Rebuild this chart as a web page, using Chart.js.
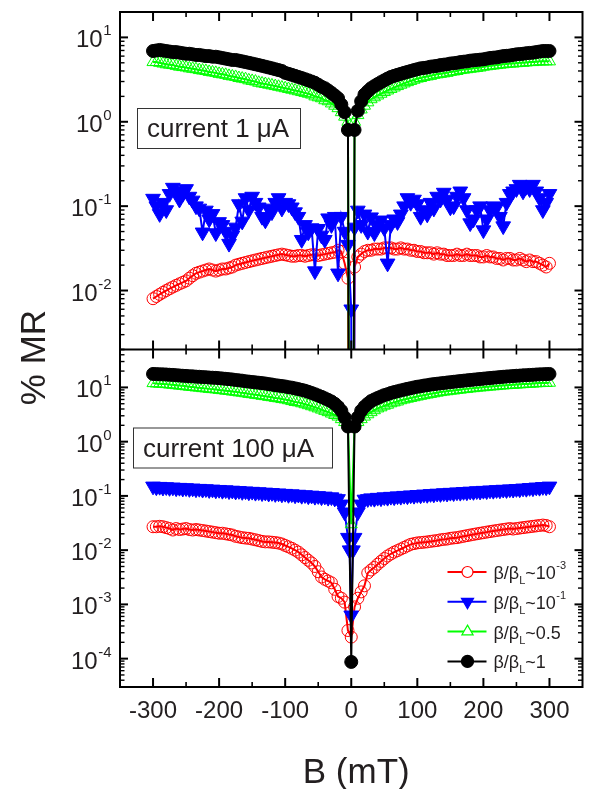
<!DOCTYPE html>
<html>
<head>
<meta charset="utf-8">
<script src="https://cdn.jsdelivr.net/npm/chart.js@4/dist/chart.umd.min.js"></script>
<style>
html,body{margin:0;padding:0;background:#fff;}
#wrap{width:592px;height:789px;position:relative;}
</style>
</head>
<body>
<div id="wrap"><canvas id="c" width="592" height="789"></canvas></div>
<script>
// Magnetic field B (mT)
const B = [
 -300,-295,-290,-285,-280,-275,-270,-265,-260,-255,
 -250,-245,-240,-235,-230,-225,-220,-215,-210,-205,
 -200,-195,-190,-185,-180,-175,-170,-165,-160,-155,
 -150,-145,-140,-135,-130,-125,-120,-115,-110,-105,
 -100,-95,-90,-85,-80,-75,-70,-65,-60,-55,
 -50,-45,-40,-35,-30,-25,-20,-15,-10,-5,
 -2.5,0,2.5,
 5,10,15,20,25,30,35,40,45,50,
 55,60,65,70,75,80,85,90,95,100,
 105,110,115,120,125,130,135,140,145,150,
 155,160,165,170,175,180,185,190,195,200,
 205,210,215,220,225,230,235,240,245,250,
 255,260,265,270,275,280,285,290,295,300
];

// ---- current 1 uA (top panel), % MR ----
const top_b1e3 = [
 0.0080,0.0085,0.0090,0.0095,0.0100,0.0105,0.0110,0.0115,0.0120,0.0125,
 0.0130,0.0140,0.0150,0.0160,0.0165,0.0170,0.0175,0.0180,0.0175,0.0170,
 0.0175,0.0180,0.0180,0.0185,0.0190,0.0200,0.0205,0.0210,0.0215,0.0220,
 0.0225,0.0230,0.0235,0.0240,0.0245,0.0250,0.0255,0.0260,0.0265,0.0270,
 0.0265,0.0260,0.0255,0.0255,0.0260,0.0260,0.0255,0.0260,0.0265,0.0265,
 0.0260,0.0265,0.0270,0.0275,0.0280,0.0285,0.0300,0.0290,0.0210,0.0140,
 null,1e-12,null,
 0.019,0.025,0.027,0.029,0.030,0.030,0.031,0.031,0.031,0.032,
 0.032,0.032,0.031,0.031,0.032,0.031,0.031,0.030,0.030,0.029,
 0.029,0.028,0.028,0.028,0.027,0.028,0.027,0.027,0.026,0.026,
 0.026,0.027,0.026,0.026,0.027,0.026,0.026,0.026,0.025,0.025,
 0.026,0.025,0.025,0.024,0.024,0.023,0.024,0.024,0.023,0.023,
 0.024,0.023,0.022,0.023,0.022,0.022,0.021,0.020,0.019,0.021
];
const top_b1e1 = [
 0.123,0.10,0.081,0.11,0.09,0.14,0.166,0.15,0.12,0.14,
 0.16,0.13,0.117,0.10,0.094,0.049,0.089,0.07,0.081,0.048,
 0.065,0.06,0.05,0.036,0.045,0.056,0.106,0.066,0.125,0.09,
 0.13,0.11,0.097,0.075,0.068,0.094,0.085,0.11,0.125,0.094,
 0.11,0.106,0.097,0.085,0.075,0.04,0.06,0.049,0.055,0.017,
 0.054,0.045,0.04,0.072,0.06,0.075,0.016,0.075,0.05,0.035,
 null,0.006,1e-12,
 0.056,0.089,0.06,0.08,0.05,0.074,0.048,0.06,0.068,0.055,
 0.021,0.06,0.07,0.065,0.08,0.1,0.125,0.11,0.12,0.106,
 0.075,0.09,0.08,0.11,0.094,0.13,0.12,0.145,0.12,0.097,
 0.1,0.13,0.15,0.125,0.09,0.063,0.07,0.09,0.1,0.052,
 0.07,0.09,0.1,0.097,0.075,0.058,0.11,0.14,0.15,0.16,
 0.18,0.15,0.17,0.16,0.18,0.15,0.125,0.09,0.11,0.14
];
const top_b05 = [
 5.1,5.1,5.0,4.9,4.8,4.75,4.7,4.6,4.5,4.45,
 4.4,4.3,4.25,4.2,4.1,4.05,4.0,3.9,3.85,3.8,
 3.7,3.65,3.6,3.5,3.45,3.4,3.3,3.25,3.2,3.1,
 3.05,3.0,2.9,2.85,2.8,2.75,2.7,2.65,2.6,2.55,
 2.5,2.45,2.4,2.35,2.3,2.25,2.2,2.15,2.1,2.0,
 1.95,1.9,1.8,1.75,1.65,1.55,1.45,1.3,1.15,1.0,
 null,1e-12,null,
 1.0,1.2,1.4,1.55,1.7,1.85,1.95,2.05,2.15,2.25,
 2.35,2.45,2.55,2.65,2.75,2.85,2.95,3.05,3.15,3.25,
 3.3,3.4,3.45,3.5,3.6,3.65,3.7,3.75,3.8,3.9,
 3.95,4.0,4.1,4.15,4.2,4.25,4.3,4.35,4.4,4.5,
 4.55,4.6,4.65,4.7,4.75,4.8,4.85,4.9,4.9,4.95,
 5.0,5.0,5.05,5.1,5.1,5.15,5.2,5.2,5.2,5.2
];
const top_b1 = [
 6.9,7.0,7.1,7.0,6.9,6.8,6.7,6.7,6.6,6.5,
 6.4,6.4,6.3,6.2,6.2,6.1,6.0,6.0,5.9,5.9,
 5.8,5.7,5.6,5.5,5.4,5.4,5.3,5.2,5.1,5.0,
 4.9,4.8,4.7,4.6,4.5,4.4,4.3,4.2,4.1,4.0,
 3.8,3.7,3.6,3.5,3.4,3.3,3.2,3.1,3.0,2.9,
 2.75,2.6,2.5,2.35,2.2,2.05,1.9,1.6,1.3,0.8,
 null,1e-12,null,
 0.8,1.35,1.75,2.1,2.3,2.5,2.65,2.8,2.95,3.1,
 3.25,3.4,3.5,3.6,3.7,3.8,3.9,4.0,4.1,4.2,
 4.3,4.35,4.4,4.5,4.55,4.6,4.7,4.75,4.8,4.9,
 4.95,5.0,5.1,5.15,5.2,5.3,5.35,5.4,5.45,5.5,
 5.6,5.7,5.75,5.8,5.9,6.0,6.05,6.1,6.2,6.3,
 6.35,6.4,6.5,6.55,6.6,6.7,6.8,6.9,6.9,6.9
];

// ---- current 100 uA (bottom panel), % MR ----
const bot_b1e3 = [
 0.027,0.027,0.0275,0.027,0.026,0.025,0.0235,0.025,0.024,0.0245,
 0.025,0.024,0.0235,0.024,0.0235,0.023,0.0225,0.022,0.0215,0.021,
 0.0205,0.0205,0.020,0.0195,0.019,0.018,0.0175,0.017,0.0167,0.0165,
 0.016,0.0155,0.015,0.0145,0.0142,0.0142,0.014,0.0138,0.0135,0.013,
 0.0122,0.0115,0.0108,0.0100,0.0092,0.0082,0.0073,0.0065,0.0058,0.0050,
 0.0040,0.0032,0.0029,0.0027,0.0025,0.0019,0.0014,0.0013,0.0011,0.00033,
 null,0.00025,null,
 0.0009,0.0013,0.0017,0.0022,0.0038,0.0043,0.0048,0.0055,0.0062,0.0070,
 0.0078,0.0085,0.0092,0.0098,0.0105,0.0112,0.0120,0.0128,0.0132,0.0136,
 0.0138,0.0140,0.0142,0.0145,0.0148,0.0150,0.0155,0.0158,0.0160,0.0165,
 0.0168,0.0170,0.0175,0.0180,0.0185,0.0190,0.0195,0.0200,0.0205,0.0210,
 0.0215,0.0220,0.0225,0.0230,0.0235,0.0240,0.0245,0.0250,0.0245,0.0250,
 0.0255,0.0260,0.0265,0.0270,0.0275,0.0280,0.0285,0.0290,0.0285,0.0270
];
const bot_b1e1 = [
 0.150,0.145,0.148,0.143,0.146,0.141,0.144,0.139,0.142,0.137,
 0.140,0.135,0.138,0.133,0.136,0.131,0.134,0.129,0.132,0.127,
 0.130,0.125,0.128,0.123,0.126,0.121,0.124,0.119,0.122,0.117,
 0.120,0.115,0.118,0.113,0.116,0.111,0.114,0.109,0.112,0.107,
 0.110,0.105,0.108,0.103,0.106,0.101,0.104,0.099,0.102,0.097,
 0.100,0.095,0.098,0.093,0.095,0.090,0.088,0.070,0.050,0.017,
 0.010,0.00063,0.010,
 0.017,0.050,0.070,0.086,0.088,0.091,0.089,0.093,0.091,0.095,
 0.093,0.097,0.095,0.099,0.097,0.101,0.099,0.103,0.101,0.105,
 0.103,0.107,0.105,0.109,0.107,0.111,0.109,0.113,0.111,0.115,
 0.113,0.117,0.115,0.119,0.117,0.121,0.119,0.123,0.121,0.125,
 0.123,0.127,0.125,0.129,0.127,0.131,0.129,0.133,0.131,0.135,
 0.133,0.138,0.136,0.141,0.139,0.144,0.142,0.147,0.145,0.150
];
const bot_b05 = [
 12.0,11.8,11.7,11.6,11.5,11.3,11.2,11.0,10.8,10.7,
 10.5,10.3,10.2,10.0,9.9,9.7,9.6,9.4,9.3,9.2,
 9.0,8.9,8.7,8.6,8.4,8.3,8.1,8.0,7.8,7.6,
 7.5,7.3,7.2,7.0,6.9,6.7,6.6,6.4,6.3,6.1,
 6.0,5.8,5.6,5.4,5.3,5.1,4.9,4.7,4.5,4.3,
 4.1,3.9,3.7,3.5,3.3,3.1,2.9,2.6,2.3,2.0,
 null,0.03,null,
 2.0,2.3,2.6,2.9,3.2,3.5,3.8,4.1,4.3,4.6,
 4.8,5.1,5.3,5.5,5.8,6.0,6.2,6.4,6.6,6.8,
 7.0,7.2,7.4,7.6,7.8,8.0,8.2,8.4,8.5,8.7,
 8.8,9.0,9.1,9.3,9.4,9.6,9.7,9.9,10.0,10.1,
 10.3,10.4,10.5,10.6,10.8,10.9,11.0,11.1,11.2,11.3,
 11.4,11.5,11.6,11.7,11.8,11.9,12.0,12.1,12.1,12.2
];
const bot_b1 = [
 17.7,17.6,17.5,17.4,17.3,17.1,17.0,16.8,16.6,16.4,
 16.3,16.1,16.0,15.8,15.7,15.5,15.4,15.2,15.1,15.0,
 14.8,14.6,14.4,14.2,14.0,13.7,13.5,13.3,13.0,12.8,
 12.6,12.4,12.2,12.0,11.8,11.5,11.3,11.0,10.8,10.6,
 10.4,10.1,9.9,9.6,9.3,9.0,8.7,8.3,7.9,7.5,
 7.1,6.7,6.3,5.9,5.5,5.0,4.4,3.7,2.8,1.9,
 null,0.000087,null,
 1.9,2.8,3.7,4.4,5.0,5.6,6.0,6.4,6.8,7.2,
 7.5,7.9,8.2,8.5,8.8,9.1,9.4,9.7,10.0,10.3,
 10.5,10.8,11.0,11.3,11.5,11.7,11.9,12.1,12.3,12.5,
 12.7,12.9,13.1,13.3,13.5,13.7,13.9,14.1,14.3,14.5,
 14.7,14.9,15.1,15.3,15.5,15.7,15.9,16.0,16.2,16.4,
 16.5,16.7,16.8,17.0,17.1,17.3,17.4,17.5,17.6,17.7
];

// Tick labels
const xTickValues = [-300,-200,-100,0,100,200,300];
const xTickLabels = ['-300','-200','-100','0','100','200','300'];
const xMinorValues = [-250,-150,-50,50,150,250];
const topExponents = ['-2','-1','0','1'];
const botExponents = ['-4','-3','-2','-1','0','1'];
const legendLabels = [
  {name:'β/β', sub:'L', tail:'~10', sup:'-3'},
  {name:'β/β', sub:'L', tail:'~10', sup:'-1'},
  {name:'β/β', sub:'L', tail:'~0.5', sup:''},
  {name:'β/β', sub:'L', tail:'~1', sup:''}
];
const panelLabels = ['current 1 μA', 'current 100 μA'];

const FONT = '"Liberation Sans", Arial, Helvetica, sans-serif';
const TXT = '#231f20';

function pts(vals){
  const out = [];
  for (let i = 0; i < B.length; i++) if (vals[i] !== null) out.push({x: B[i], y: vals[i]});
  return out;
}

const styles = [
  {color:'#ff0000', pointStyle:'circle', radius:6, fill:'rgba(0,0,0,0)', rot:0, bw:1, order:3, lr:5.5},
  {color:'#0000ff', pointStyle:'triangle', radius:8.5, fill:'#0000ff', rot:180, bw:1, order:2, lr:7},
  {color:'#00ff00', pointStyle:'triangle', radius:7, fill:'rgba(0,0,0,0)', rot:0, bw:1, order:1, lr:6.5},
  {color:'#000000', pointStyle:'circle', radius:6.5, fill:'#000000', rot:0, bw:1, order:0, lr:6}
];
function ds(vals, k, axis, label){
  const s = styles[k];
  return {
    label: label, data: pts(vals), yAxisID: axis, order: s.order,
    borderColor: s.color, backgroundColor: s.fill, borderWidth: 2,
    pointStyle: s.pointStyle, pointRadius: s.radius, pointRotation: s.rot,
    pointBorderColor: s.color, pointBackgroundColor: s.fill, pointBorderWidth: s.bw,
    spanGaps: true, tension: 0
  };
}
const legendText = ['β/βL~10^-3','β/βL~10^-1','β/βL~0.5','β/βL~1'];
const datasets = [
  ds(top_b1e3,0,'yTop',legendText[0]), ds(top_b1e1,1,'yTop',legendText[1]),
  ds(top_b05,2,'yTop',legendText[2]), ds(top_b1,3,'yTop',legendText[3]),
  ds(bot_b1e3,0,'yBot',legendText[0]), ds(bot_b1e1,1,'yBot',legendText[1]),
  ds(bot_b05,2,'yBot',legendText[2]), ds(bot_b1,3,'yBot',legendText[3])
];

function drawMarker(ctx, k, x, y){
  const s = styles[k];
  ctx.save();
  ctx.lineWidth = 1.2; ctx.strokeStyle = s.color;
  ctx.beginPath();
  const r = s.lr;
  if (s.pointStyle === 'circle') {
    ctx.arc(x, y, r, 0, Math.PI*2);
  } else {
    const dir = s.rot === 180 ? -1 : 1;
    ctx.moveTo(x, y - dir*r);
    ctx.lineTo(x + r*Math.sin(2*Math.PI/3), y + dir*r/2);
    ctx.lineTo(x - r*Math.sin(2*Math.PI/3), y + dir*r/2);
    ctx.closePath();
  }
  ctx.fillStyle = (s.fill === 'rgba(0,0,0,0)') ? '#ffffff' : s.fill;
  ctx.fill(); ctx.stroke();
  ctx.restore();
}

const decor = {
  id: 'decor',
  afterDatasetsDraw(chart){
    const ctx = chart.ctx;
    const xs = chart.scales.x, yT = chart.scales.yTop, yB = chart.scales.yBot;
    const L = xs.left, R = xs.right, T = yT.top, M = yT.bottom, Bt = yB.bottom;
    ctx.save();
    ctx.strokeStyle = '#000';
    // frame + divider
    ctx.lineWidth = 2;
    ctx.strokeRect(L, T, R - L, Bt - T);
    ctx.beginPath(); ctx.moveTo(L, M); ctx.lineTo(R, M); ctx.stroke();
    // x ticks (inward) at each horizontal edge
    const edges = [[T, 1], [M, -1], [M, 1], [Bt, -1]];
    for (const [ey, dir] of edges) {
      ctx.lineWidth = 2;
      for (const v of xTickValues) { const px = xs.getPixelForValue(v); ctx.beginPath(); ctx.moveTo(px, ey); ctx.lineTo(px, ey + dir*9); ctx.stroke(); }
      ctx.lineWidth = 1.6;
      for (const v of xMinorValues) { const px = xs.getPixelForValue(v); ctx.beginPath(); ctx.moveTo(px, ey); ctx.lineTo(px, ey + dir*5); ctx.stroke(); }
    }
    // y ticks, log scale
    for (const sc of [yT, yB]) {
      const lo = sc.min, hi = sc.max;
      for (let d = -6; d <= 3; d++) {
        for (let m = 1; m <= 9; m++) {
          const v = m * Math.pow(10, d);
          if (v < lo * 0.999 || v > hi * 1.001) continue;
          const py = sc.getPixelForValue(v);
          const len = (m === 1) ? 8 : 4.5;
          ctx.lineWidth = (m === 1) ? 2 : 1.4;
          ctx.beginPath(); ctx.moveTo(L, py); ctx.lineTo(L + len, py); ctx.stroke();
          ctx.beginPath(); ctx.moveTo(R, py); ctx.lineTo(R - len, py); ctx.stroke();
        }
      }
    }
    // y tick labels 10^n
    ctx.fillStyle = TXT; ctx.textBaseline = 'alphabetic'; ctx.textAlign = 'left';
    const bigF = '24px ' + FONT, smF = '15px ' + FONT;
    function pow10(exp, sc){
      const py = sc.getPixelForValue(Math.pow(10, parseInt(exp, 10)));
      ctx.font = bigF; const w1 = ctx.measureText('10').width;
      ctx.font = smF; const w2 = ctx.measureText(exp).width;
      const x0 = L - 9 - w1 - w2;
      ctx.font = bigF; ctx.fillText('10', x0, py + 10);
      ctx.font = smF; ctx.fillText(exp, x0 + w1 + 0.5, py - 2);
    }
    topExponents.forEach(e => pow10(e, yT));
    botExponents.forEach(e => pow10(e, yB));
    // x tick labels
    ctx.font = bigF; ctx.textAlign = 'center';
    xTickValues.forEach((v, i) => ctx.fillText(xTickLabels[i], xs.getPixelForValue(v), Bt + 31));
    // axis titles
    ctx.font = '35px ' + FONT;
    ctx.fillText('B (mT)', (L + R) / 2 + 5, 783);
    ctx.save();
    ctx.translate(45, (T + Bt) / 2 + 8);
    ctx.rotate(-Math.PI / 2);
    ctx.textAlign = 'center';
    ctx.fillText('% MR', 0, 0);
    ctx.restore();
    // panel label boxes
    const boxes = [
      {x: L + 17, y: T + 96, w: 163, h: 40, t: panelLabels[0]},
      {x: L + 13, y: M + 78, w: 199, h: 40, t: panelLabels[1]}
    ];
    ctx.font = '26px ' + FONT; ctx.textAlign = 'left';
    for (const b of boxes) {
      ctx.lineWidth = 1; ctx.strokeStyle = '#333';
      ctx.fillStyle = '#fff';
      ctx.fillRect(b.x, b.y, b.w, b.h);
      ctx.strokeRect(b.x + 0.5, b.y + 0.5, b.w, b.h);
      ctx.fillStyle = TXT;
      ctx.fillText(b.t, b.x + 10, b.y + 29);
    }
    // legend
    const lx0 = R - 135, lx1 = R - 96, mx = R - 115, tx = R - 89;
    legendLabels.forEach((lab, k) => {
      const ly = Bt - 115 + k * 29.8;
      ctx.strokeStyle = styles[k].color; ctx.lineWidth = 2;
      ctx.beginPath(); ctx.moveTo(lx0, ly); ctx.lineTo(lx1, ly); ctx.stroke();
      drawMarker(ctx, k, mx, ly);
      ctx.fillStyle = TXT; ctx.textAlign = 'left';
      let x = tx;
      ctx.font = '18px ' + FONT; ctx.fillText(lab.name, x, ly + 7); x += ctx.measureText(lab.name).width;
      ctx.font = '11px ' + FONT; ctx.fillText(lab.sub, x, ly + 12); x += ctx.measureText(lab.sub).width;
      ctx.font = '18px ' + FONT; ctx.fillText(lab.tail, x, ly + 7); x += ctx.measureText(lab.tail).width;
      if (lab.sup) { ctx.font = '11px ' + FONT; ctx.fillText(lab.sup, x + 0.5, ly - 3); }
    });
    ctx.restore();
  }
};

new Chart(document.getElementById('c'), {
  type: 'line',
  data: { datasets: datasets },
  options: {
    responsive: false, animation: false, devicePixelRatio: 1, events: [],
    layout: { padding: { left: 120, right: 4, top: 12, bottom: 102 } },
    plugins: { legend: { display: false }, tooltip: { enabled: false } },
    scales: {
      x: { type: 'linear', min: -350, max: 350, display: false },
      yTop: { type: 'logarithmic', position: 'left', min: 0.002, max: 20, stack: 'mr', stackWeight: 1, weight: 2, display: false },
      yBot: { type: 'logarithmic', position: 'left', min: 0.00003, max: 50, stack: 'mr', stackWeight: 1, weight: 1, display: false }
    }
  },
  plugins: [decor]
});
</script>
</body>
</html>
